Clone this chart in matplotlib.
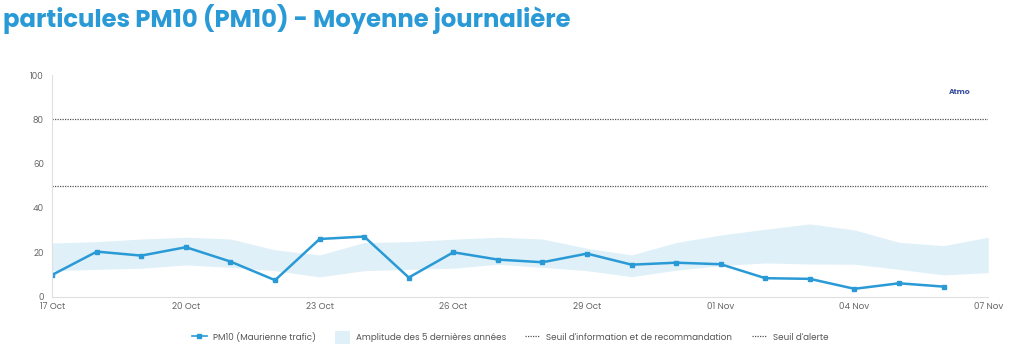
import matplotlib.pyplot as plt
import matplotlib.dates as mdates
import datetime as dt

plt.rcParams['font.family'] = ['Poppins', 'Open Sans', 'DejaVu Sans']

# daily dates 17 Oct -> 07 Nov
start = dt.datetime(2023, 10, 17)
days = [start + dt.timedelta(days=i) for i in range(22)]

pm10 = [9.8, 20.3, 18.5, 22.3, 15.8, 7.4, 26.0, 27.1, 8.6, 20.0, 16.7,
        15.5, 19.4, 14.4, 15.3, 14.6, 8.3, 8.0, 3.5, 6.0, 4.5]
band_hi = [24.2, 24.8, 26.0, 26.8, 26.0, 21.1, 18.8, 24.4, 24.8, 25.9, 26.8,
           26.0, 21.8, 18.8, 24.4, 27.8, 30.4, 32.8, 30.1, 24.5, 23.0, 26.8]
band_lo = [11.7, 12.3, 12.8, 14.3, 13.2, 11.7, 8.9, 11.7, 12.3, 12.8, 14.6,
           13.2, 11.7, 9.0, 11.9, 14.0, 15.2, 14.7, 14.6, 12.3, 9.8, 10.8]
seuil_info = 50
seuil_alerte = 80

blue = '#2a9ad6'
grey = '#666666'

fig = plt.figure(figsize=(10.24, 3.63), dpi=100)
ax = fig.add_axes([0.051, 0.183, 0.914, 0.610])

ax.fill_between(days, band_lo, band_hi, color='#dff0f8', lw=0,
                label='Amplitude des 5 dernières années')
ax.plot(days[:len(pm10)], pm10, color=blue, lw=1.8, marker='s', ms=2.8,
        label='PM10 (Maurienne trafic)')
ax.axhline(seuil_info, color='#555555', lw=0.9, ls=(0, (1, 1)),
           label="Seuil d'information et de recommandation")
ax.axhline(seuil_alerte, color='#555555', lw=0.9, ls=(0, (1, 1)),
           label="Seuil d'alerte")

ax.set_xlim(days[0], days[-1])
ax.set_ylim(0, 100)
ax.set_yticks(range(0, 101, 20))
ax.set_xticks(days[::3])
ax.xaxis.set_major_formatter(mdates.DateFormatter('%d %b'))

for s in ['top', 'right']:
    ax.spines[s].set_visible(False)
for s in ['left', 'bottom']:
    ax.spines[s].set_color('#e0e0e0')
ax.tick_params(length=0, labelsize=6.3, colors=grey, pad=6)
ax.tick_params(axis='x', pad=4)

h, l = ax.get_legend_handles_labels()
order = [1, 0, 2, 3]
leg = fig.legend([h[i] for i in order], [l[i] for i in order], loc='center',
                 bbox_to_anchor=(0.498, 0.07), ncol=4, frameon=False, fontsize=6.3,
                 handlelength=1.7, handleheight=2.0, handletextpad=0.7,
                 columnspacing=2.2)
for t in leg.get_texts():
    t.set_color('#555555')
for line in leg.get_lines()[:1]:
    line.set_linewidth(1.2)

fig.text(0.003, 0.948, 'particules PM10 (PM10) - Moyenne journalière', color=blue,
         fontsize=17.5, fontweight='bold', va='center', ha='left')
fig.text(0.937, 0.745, 'Atmo', color='#3a4fa0', fontsize=5.5, fontweight='bold',
         ha='center', va='center')

fig.savefig('out.png', dpi=100)
